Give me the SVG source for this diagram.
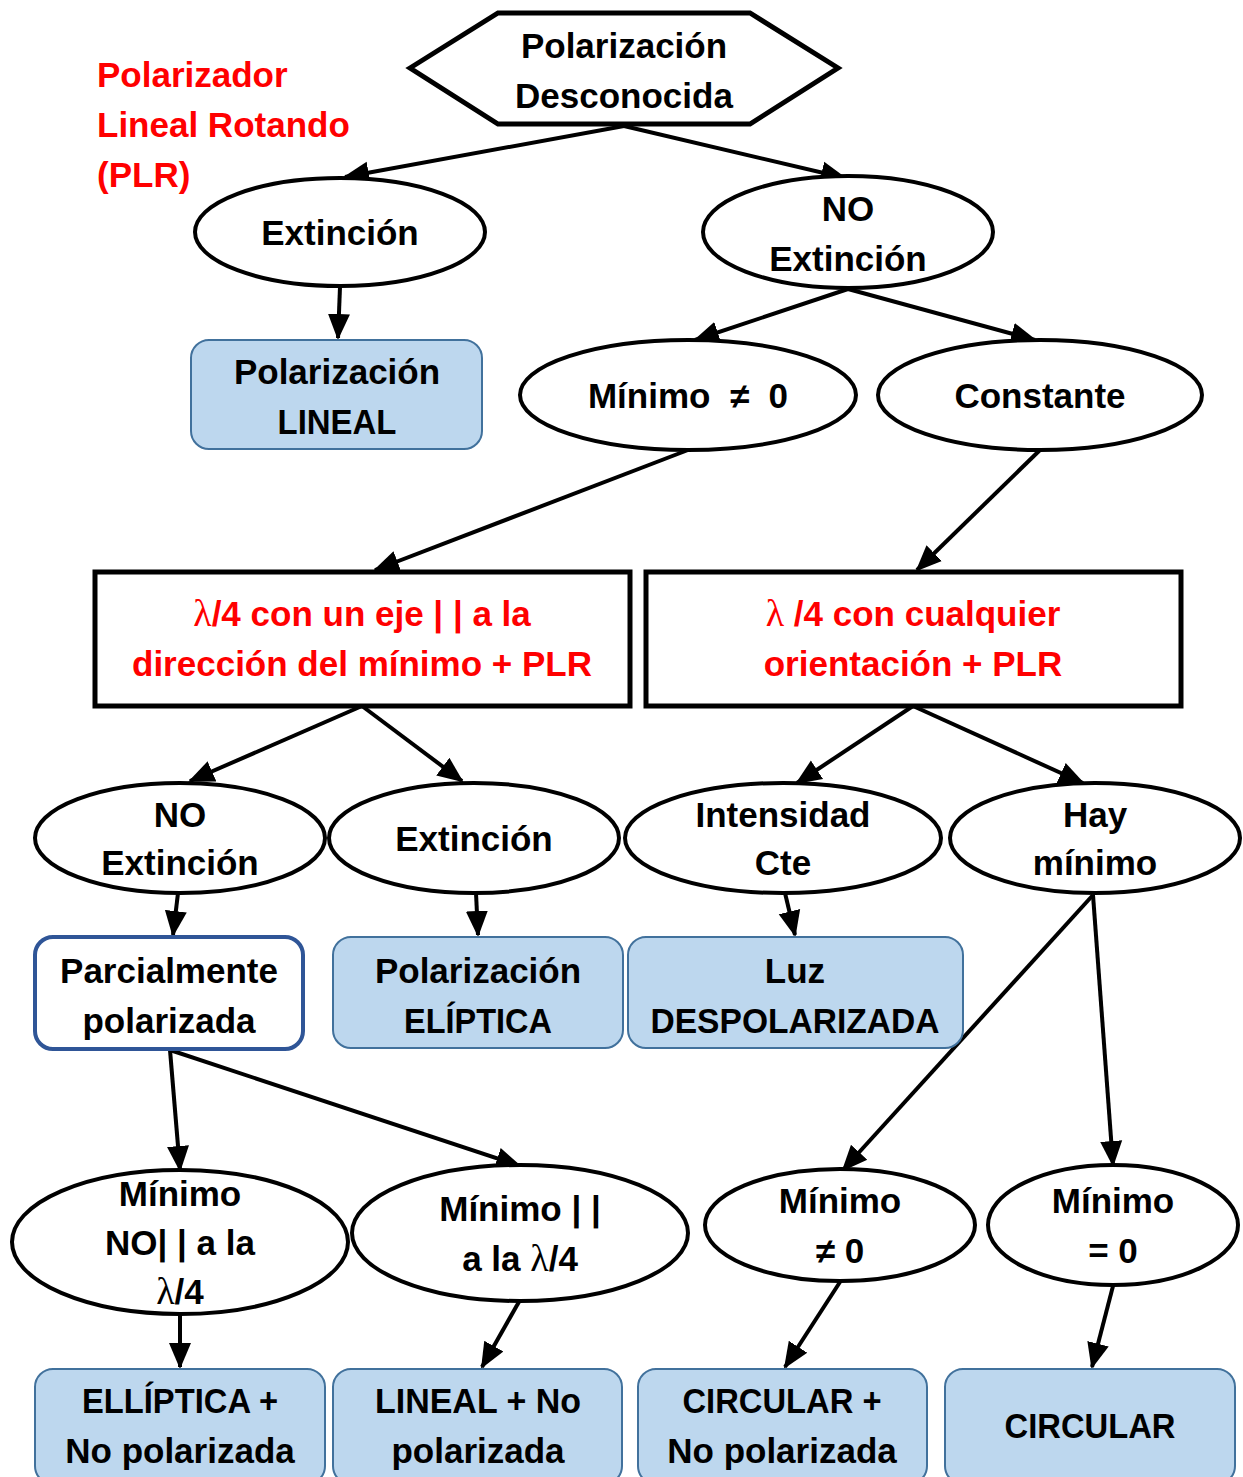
<svg xmlns="http://www.w3.org/2000/svg" width="1243" height="1477" viewBox="0 0 1243 1477">
<style>
text{font-family:"Liberation Sans","DejaVu Sans",sans-serif;font-weight:bold;font-size:35px;text-anchor:middle;fill:#000}
.lam{font-family:"Liberation Serif","DejaVu Serif",serif;font-weight:normal;font-size:38px}
.red{fill:#f00}
.redl{fill:#f00;text-anchor:start}
.ell{fill:#fff;stroke:#000;stroke-width:4}
.res{fill:#bdd7ee;stroke:#41719c;stroke-width:2}
.box{fill:#fff;stroke:#000;stroke-width:5}
.conn line{stroke:#000;stroke-width:4;marker-end:url(#ah)}
</style>
<defs>
<marker id="ah" markerUnits="userSpaceOnUse" markerWidth="26" markerHeight="26" viewBox="0 0 26 26" refX="24" refY="13" orient="auto">
<path d="M0,2 L26,13 L0,24 Z" fill="#000"/>
</marker>
</defs>
<rect width="1243" height="1477" fill="#fff"/>
<g id="title-plr">
<text class="redl" x="97" y="87">Polarizador</text>
<text class="redl" x="97" y="137">Lineal Rotando</text>
<text class="redl" x="97" y="187">(PLR)</text>
</g>
<g class="conn" id="connectors">
<line x1="624" y1="126" x2="345" y2="177"/>
<line x1="624" y1="126" x2="845" y2="178"/>
<line x1="340" y1="287" x2="338" y2="338"/>
<line x1="848" y1="289" x2="695" y2="340"/>
<line x1="848" y1="289" x2="1035" y2="340"/>
<line x1="688" y1="450" x2="375" y2="570"/>
<line x1="1040" y1="450" x2="917" y2="570"/>
<line x1="362" y1="706" x2="190" y2="781"/>
<line x1="362" y1="706" x2="462" y2="781"/>
<line x1="913" y1="706" x2="797" y2="783"/>
<line x1="913" y1="706" x2="1083" y2="783"/>
<line x1="178" y1="893" x2="173" y2="935"/>
<line x1="476" y1="893" x2="478" y2="935"/>
<line x1="785" y1="893" x2="795" y2="935"/>
<line x1="170" y1="1050" x2="180" y2="1170"/>
<line x1="170" y1="1050" x2="520" y2="1166"/>
<line x1="1093" y1="895" x2="843" y2="1170"/>
<line x1="1093" y1="895" x2="1113" y2="1165"/>
<line x1="180" y1="1315" x2="180" y2="1367"/>
<line x1="520" y1="1300" x2="482" y2="1367"/>
<line x1="840" y1="1282" x2="785" y2="1367"/>
<line x1="1113" y1="1286" x2="1092" y2="1367"/>
</g>
<g id="n-start">
<polygon points="410,68 498,13 750,13 838,68 750,124 498,124" class="box" stroke-width="4"/>
<text x="624" y="58">Polarización</text>
<text x="624" y="108">Desconocida</text>
</g>
<g id="n-extincion">
<ellipse cx="340" cy="232" rx="145" ry="54" class="ell"/>
<text x="340" y="245">Extinción</text>
</g>
<g id="n-noext">
<ellipse cx="848" cy="232" rx="145" ry="56" class="ell"/>
<text x="848" y="221">NO</text>
<text x="848" y="271">Extinción</text>
</g>
<g id="n-lineal">
<rect x="191" y="340" width="291" height="109" rx="18" class="res"/>
<text x="337" y="384">Polarización</text>
<text x="337" y="434" textLength="119" lengthAdjust="spacingAndGlyphs">LINEAL</text>
</g>
<g id="n-minimo">
<ellipse cx="688" cy="395" rx="168" ry="55" class="ell"/>
<text x="688" y="408" xml:space="preserve">Mínimo  ≠  0</text>
</g>
<g id="n-constante">
<ellipse cx="1040" cy="395" rx="162" ry="55" class="ell"/>
<text x="1040" y="408">Constante</text>
</g>
<g id="n-l4a">
<rect x="95" y="572" width="535" height="134" class="box"/>
<text class="red" x="362" y="626"><tspan class="lam">λ</tspan>/4 con un eje | | a la</text>
<text class="red" x="362" y="676">dirección del mínimo + PLR</text>
</g>
<g id="n-l4b">
<rect x="646" y="572" width="535" height="134" class="box"/>
<text class="red" x="913" y="626"><tspan class="lam">λ</tspan> /4 con cualquier</text>
<text class="red" x="913" y="676">orientación + PLR</text>
</g>
<g id="n-noext2">
<ellipse cx="180" cy="838" rx="145" ry="55" class="ell"/>
<text x="180" y="827">NO</text>
<text x="180" y="875">Extinción</text>
</g>
<g id="n-ext2">
<ellipse cx="474" cy="838" rx="145" ry="55" class="ell"/>
<text x="474" y="851">Extinción</text>
</g>
<g id="n-intcte">
<ellipse cx="783" cy="838" rx="158" ry="55" class="ell"/>
<text x="783" y="827">Intensidad</text>
<text x="783" y="875">Cte</text>
</g>
<g id="n-haymin">
<ellipse cx="1095" cy="838" rx="145" ry="55" class="ell"/>
<text x="1095" y="827">Hay</text>
<text x="1095" y="875">mínimo</text>
</g>
<g id="n-parcial">
<rect x="35" y="937" width="268" height="112" rx="18" fill="#fff" stroke="#2f5597" stroke-width="4"/>
<text x="169" y="983">Parcialmente</text>
<text x="169" y="1033">polarizada</text>
</g>
<g id="n-eliptica">
<rect x="333" y="937" width="290" height="111" rx="18" class="res"/>
<text x="478" y="983">Polarización</text>
<text x="478" y="1033" textLength="148" lengthAdjust="spacingAndGlyphs">ELÍPTICA</text>
</g>
<g id="n-despol">
<rect x="628" y="937" width="335" height="111" rx="18" class="res"/>
<text x="795" y="983">Luz</text>
<text x="795" y="1033" textLength="289" lengthAdjust="spacingAndGlyphs">DESPOLARIZADA</text>
</g>
<g id="n-minnopar">
<ellipse cx="180" cy="1242" rx="168" ry="72" class="ell"/>
<text x="180" y="1206">Mínimo</text>
<text x="180" y="1255">NO| | a la</text>
<text x="180" y="1304"><tspan class="lam">λ</tspan>/4</text>
</g>
<g id="n-minpar">
<ellipse cx="520" cy="1233" rx="168" ry="68" class="ell"/>
<text x="520" y="1221">Mínimo | |</text>
<text x="520" y="1271">a la <tspan class="lam">λ</tspan>/4</text>
</g>
<g id="n-minne0">
<ellipse cx="840" cy="1225" rx="135" ry="56" class="ell"/>
<text x="840" y="1213">Mínimo</text>
<text x="840" y="1263">≠ 0</text>
</g>
<g id="n-mineq0">
<ellipse cx="1113" cy="1225" rx="125" ry="60" class="ell"/>
<text x="1113" y="1213">Mínimo</text>
<text x="1113" y="1263">= 0</text>
</g>
<g id="n-ellnp">
<rect x="35" y="1369" width="290" height="115" rx="18" class="res"/>
<text x="180" y="1413" textLength="196" lengthAdjust="spacingAndGlyphs">ELLÍPTICA +</text>
<text x="180" y="1463">No polarizada</text>
</g>
<g id="n-linnp">
<rect x="333" y="1369" width="289" height="115" rx="18" class="res"/>
<text x="478" y="1413" textLength="206" lengthAdjust="spacingAndGlyphs">LINEAL + No</text>
<text x="478" y="1463">polarizada</text>
</g>
<g id="n-circnp">
<rect x="638" y="1369" width="289" height="115" rx="18" class="res"/>
<text x="782" y="1413" textLength="199" lengthAdjust="spacingAndGlyphs">CIRCULAR +</text>
<text x="782" y="1463">No polarizada</text>
</g>
<g id="n-circ">
<rect x="945" y="1369" width="290" height="115" rx="18" class="res"/>
<text x="1090" y="1438" textLength="171" lengthAdjust="spacingAndGlyphs">CIRCULAR</text>
</g>
</svg>
